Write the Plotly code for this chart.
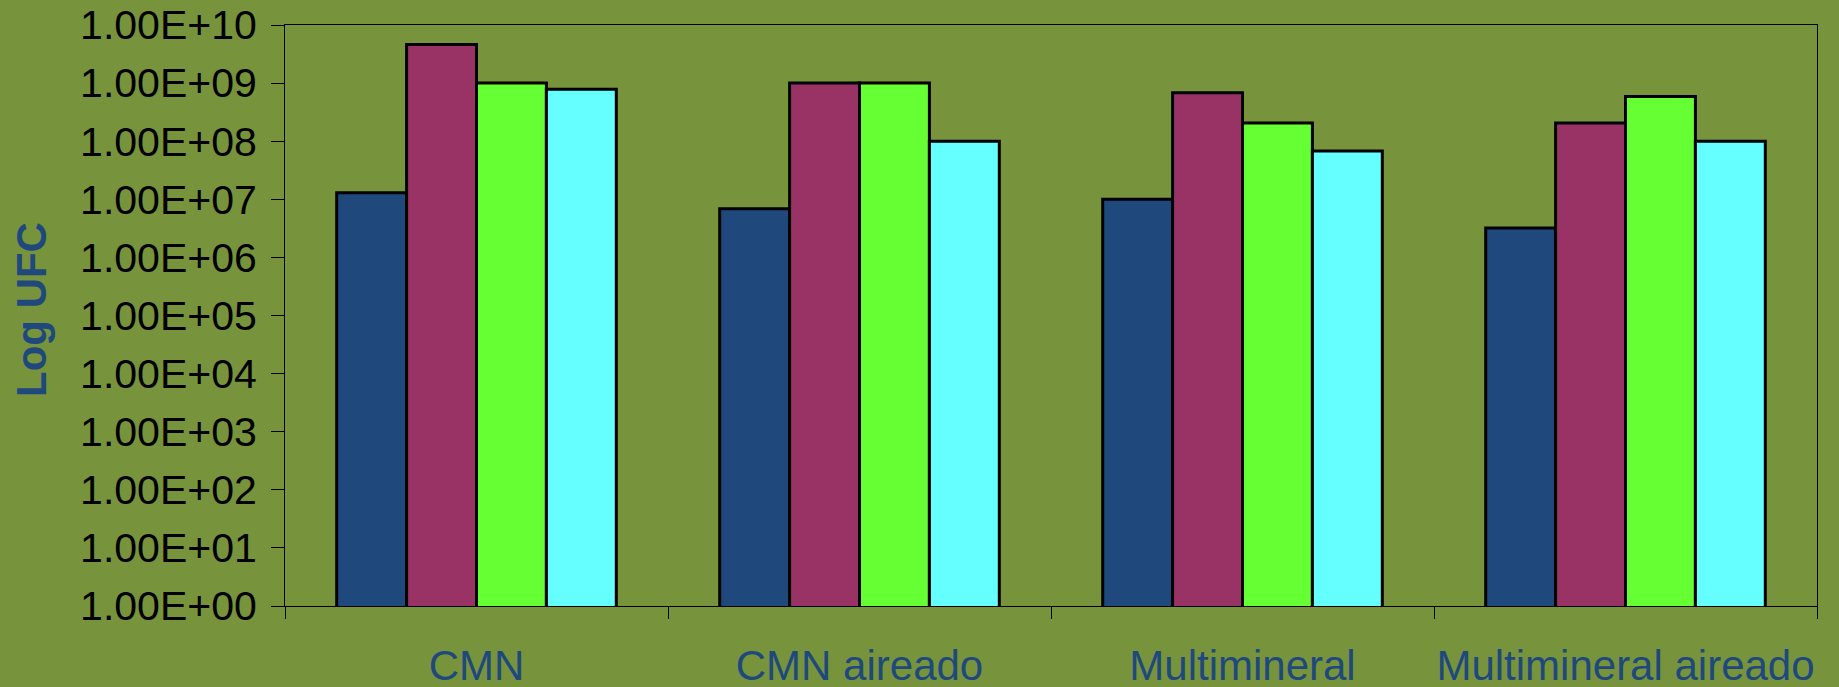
import plotly.graph_objects as go

categories = ["CMN", "CMN aireado", "Multimineral", "Multimineral aireado"]
series_names = ["Serie 1", "Serie 2", "Serie 3", "Serie 4"]
serie_1 = [1.3e7, 6.9e6, 1.0e7, 3.2e6]
serie_2 = [4.6e9, 1.0e9, 6.8e8, 2.05e8]
serie_3 = [1.0e9, 1.0e9, 2.05e8, 5.9e8]
serie_4 = [7.8e8, 1.0e8, 6.8e7, 1.0e8]
series_values = [serie_1, serie_2, serie_3, serie_4]
series_colors = ["#1F497D", "#993366", "#66FF33", "#66FFFF"]

tick_values = [1e0, 1e1, 1e2, 1e3, 1e4, 1e5, 1e6, 1e7, 1e8, 1e9, 1e10]
tick_labels = ["1.00E+00", "1.00E+01", "1.00E+02", "1.00E+03", "1.00E+04",
               "1.00E+05", "1.00E+06", "1.00E+07", "1.00E+08", "1.00E+09", "1.00E+10"]
y_title = "Log UFC"

BG = "#77933C"
W, H = 1839, 687
ML, MR, MT, MB = 285, 22, 25, 81

fig = go.Figure()
for name, vals, col in zip(series_names, series_values, series_colors):
    fig.add_trace(go.Bar(
        x=categories, y=vals, name=name,
        marker=dict(color=col, line=dict(color="black", width=3)),
    ))

pw = W - ML - MR
ph = H - MT - MB
fig.update_layout(
    width=W, height=H,
    margin=dict(l=ML, r=MR, t=MT, b=MB, autoexpand=False),
    paper_bgcolor=BG, plot_bgcolor=BG,
    barmode="group", bargap=0.27, bargroupgap=0,
    showlegend=False,
    font=dict(family="Liberation Sans, Arial, sans-serif", color="black"),
    xaxis=dict(
        type="category", tickson="boundaries", automargin=False,
        showline=True, linecolor="black", linewidth=1, mirror=True,
        ticks="outside", ticklen=12, tickcolor="black", tickwidth=1,
        showgrid=False, zeroline=False, tickangle=0,
        tickfont=dict(size=42, color="#1F497D"),
        ticklabelstandoff=23,
    ),
    yaxis=dict(
        type="log", range=[0, 10], automargin=False,
        tickvals=tick_values, ticktext=tick_labels,
        showline=True, linecolor="black", linewidth=1, mirror=True,
        ticks="outside", ticklen=13, tickcolor="black", tickwidth=1,
        showgrid=False, zeroline=False,
        tickfont=dict(size=41, color="black"),
        ticklabelstandoff=6,
    ),
    annotations=[dict(
        text="<b>" + y_title + "</b>", textangle=-90,
        xref="paper", yref="paper",
        x=(31 - ML) / pw, y=(MT + ph - 310) / ph,
        xanchor="center", yanchor="middle", showarrow=False,
        font=dict(size=42, color="#1F497D", family="Liberation Sans, Arial, sans-serif"),
    )],
)

fig.write_html("out.html")
